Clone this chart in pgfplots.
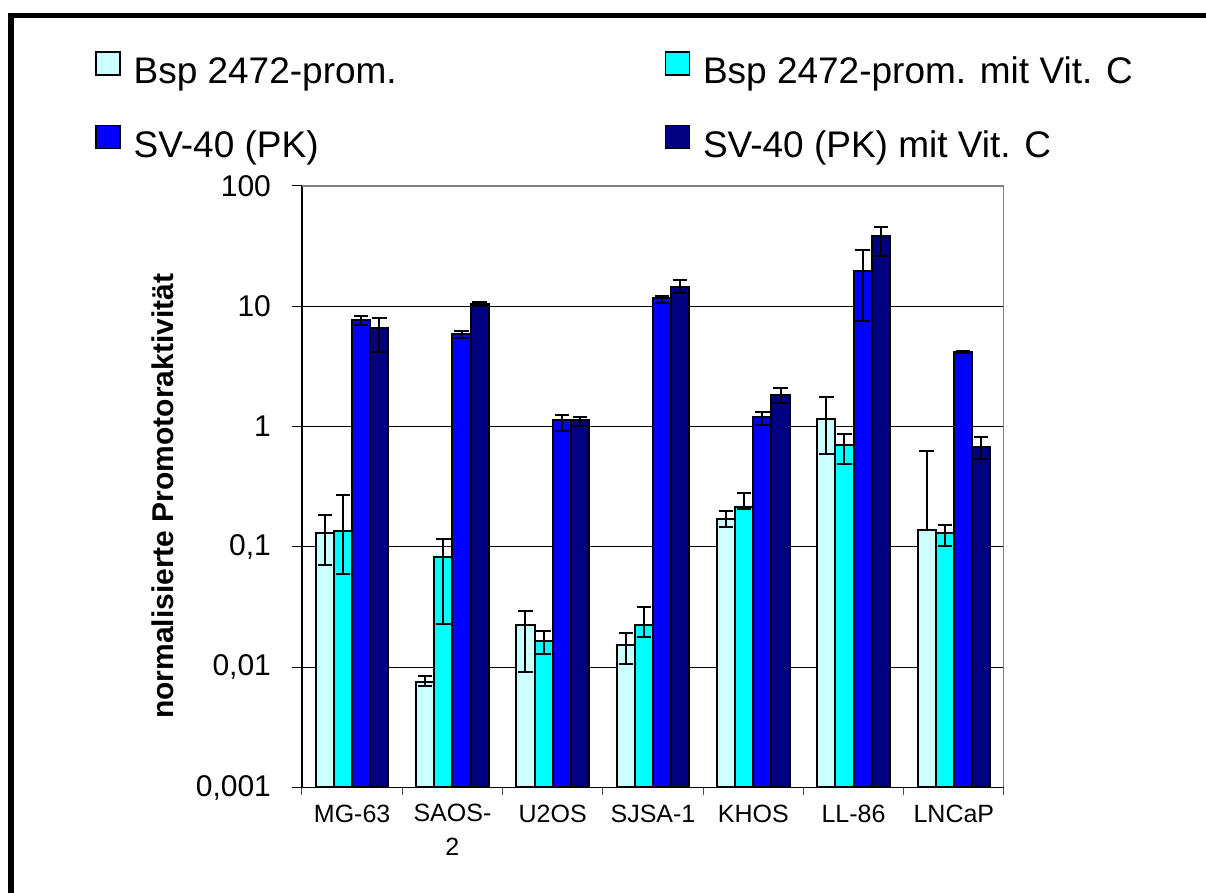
\documentclass[border=0pt]{standalone}
\usepackage{fontspec}
\setmainfont{Liberation Sans}
\usepackage{pgfplots}
\pgfplotsset{compat=1.18}
\usepackage{pgfplotstable}

\definecolor{c1}{HTML}{CCFFFF}
\definecolor{c2}{HTML}{00FFFF}
\definecolor{c3}{HTML}{0000FF}
\definecolor{c4}{HTML}{000080}

% Bsp 2472-prom.
\pgfplotstableread{
x y ep em
0 0.130 0.053 0.059
1 0.0075 0.0010 0.0005
2 0.0223 0.0071 0.0131
3 0.0153 0.0040 0.0046
4 0.172 0.028 0.026
5 1.167 0.61 0.58
6 0.139 0.486 0
}\tA
% Bsp 2472-prom. mit Vit. C
\pgfplotstableread{
x y ep em
0 0.136 0.133 0.077
1 0.0828 0.034 0.060
2 0.0165 0.0035 0.0036
3 0.0223 0.0092 0.0045
4 0.216 0.066 0.010
5 0.701 0.16 0.21
6 0.131 0.021 0.029
}\tB
% SV-40 (PK)
\pgfplotstableread{
x y ep em
0 7.65 0.61 0.67
1 5.86 0.42 0.43
2 1.124 0.13 0.21
3 11.8 0.3 1.1
4 1.213 0.10 0.18
5 19.8 9.4 12.2
6 4.20 0.08 0.08
}\tC
% SV-40 (PK) mit Vit. C
\pgfplotstableread{
x y ep em
0 6.57 1.38 2.41
1 10.45 0.41 0.47
2 1.124 0.08 0.12
3 14.6 1.9 1.6
4 1.845 0.25 0.28
5 38.1 7.9 12.1
6 0.676 0.14 0.14
}\tD

\begin{document}
\begin{tikzpicture}
\path[use as bounding box] (0,0) rectangle (603pt,446.5pt);
\draw[line width=2.8pt, line join=miter] (5.6pt,-2pt) -- (5.6pt,438.75pt) -- (605pt,438.75pt);
\begin{axis}[
  at={(151pt,52.75pt)}, anchor=south west,
  scale only axis, width=351pt, height=300.75pt,
  ymode=log, ymin=0.001, ymax=100, log origin=infty,
  xmin=-0.5, xmax=6.5,
  ybar=0pt, bar width=0.181,
  axis lines*=left,
  axis line style={-, black, line width=0.6pt},
  ytick={0.001,0.01,0.1,1,10,100},
  yticklabels={{0,001},{0,01},{0,1},1,10,100},
  yminorticks=false,
  ymajorgrids, grid style={black, line width=0.5pt},
  xtick={0,...,6},
  xticklabels={MG-63,{SAOS-\\2},U2OS,SJSA-1,KHOS,LL-86,LNCaP},
  minor xtick={-0.5,0.5,...,6.5},
  tick align=outside,
  major tick length=5pt,
  minor tick length=4pt,
  major x tick style={draw=none},
  minor x tick style={black!70, line width=0.5pt},
  y tick style={black, line width=0.5pt},
  yticklabel style={font=\fontsize{15}{17}\selectfont, xshift=-7pt},
  xticklabel style={font=\fontsize{12.5}{16.5}\selectfont, align=center},
  ylabel={normalisierte Promotoraktivität},
  every axis y label/.style={at={(axis description cs:-0.198,0.484)}, rotate=90, anchor=center,
    font=\fontsize{15}{17}\selectfont\bfseries},
  legend columns=2,
  legend style={at={(axis description cs:-0.2949,1.2244)}, anchor=north west,
    draw=none, fill=none, inner sep=0pt,
    font=\fontsize{18.5}{21}\selectfont,
    nodes={inner sep=0pt},
    /tikz/every odd column/.append style={column sep=6.5pt},
    /tikz/every even column/.append style={column sep=134pt},
    row sep=19pt},
  legend cell align=left,
  legend image code/.code={\draw[#1, line width=0.6pt, draw=black] (0pt,-1.5pt) rectangle (12pt,10pt);},
  every axis plot/.append style={draw=black, line width=1pt,
    error bars/y dir=both, error bars/y explicit,
    error bars/error bar style={line width=1pt, black, solid},
    error bars/error mark options={line width=1pt, black, mark size=3.6pt, rotate=90}},
]
\addplot[fill=c1] table[x=x, y=y, y error plus=ep, y error minus=em] {\tA};
\addplot[fill=c2] table[x=x, y=y, y error plus=ep, y error minus=em] {\tB};
\addplot[fill=c3] table[x=x, y=y, y error plus=ep, y error minus=em] {\tC};
\addplot[fill=c4] table[x=x, y=y, y error plus=ep, y error minus=em] {\tD};
\legend{Bsp 2472-prom., Bsp 2472-prom. mit Vit. C, SV-40 (PK), SV-40 (PK) mit Vit. C}
\draw[gray, line width=0.6pt] (rel axis cs:0,1) -- (rel axis cs:1,1) -- (rel axis cs:1,0);
\end{axis}
\end{tikzpicture}
\end{document}
